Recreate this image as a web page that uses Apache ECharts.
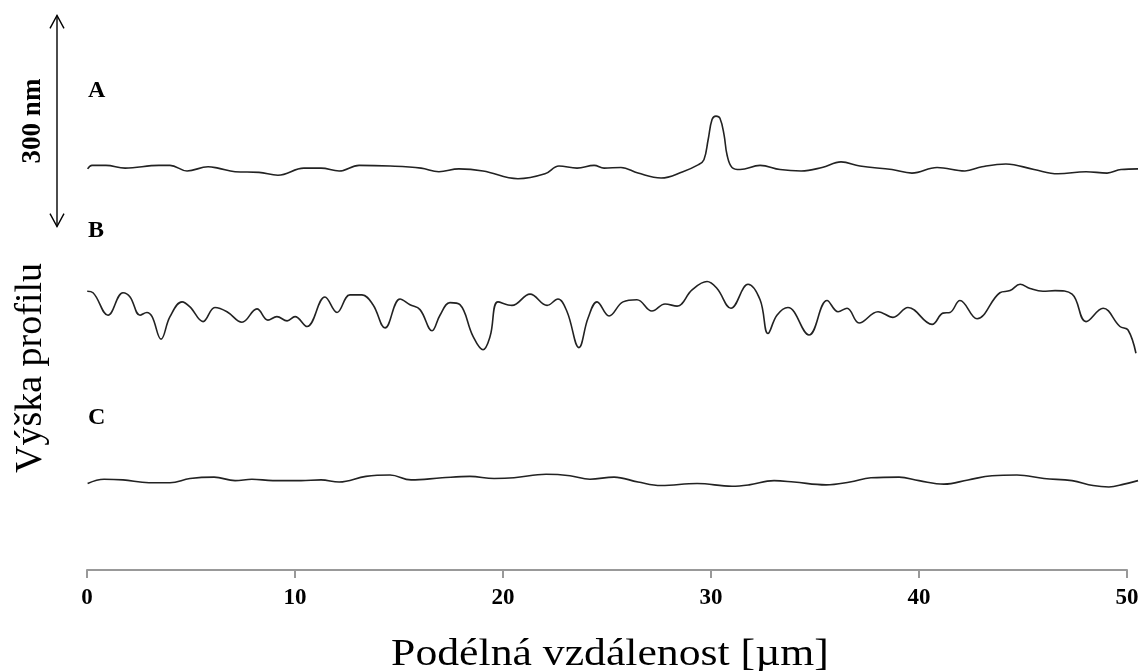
<!DOCTYPE html>
<html>
<head>
<meta charset="utf-8">
<title>Výška profilu</title>
</head>
<body style="margin:0">
<div id="main" style="width:1142px;height:671px;"></div>
<script src="https://cdn.jsdelivr.net/npm/echarts@6/dist/echarts.min.js"></script>
<script>
// profily [x v µm, výška v nm]
var profileA = [[0.03,570],[0.24,575],[0.91,575],[1.83,571],[3.46,575],[3.99,575],[4.81,567],[5.82,573],[6.30,571],[7.12,566],[8.27,565],[9.18,561],[10.43,571],[11.25,571],[12.12,567],[13.08,575],[14.57,574],[16.06,571],[16.92,566],[17.88,570],[19.04,567],[20.72,556],[22.02,563],[22.69,574],[23.56,571],[24.38,575],[24.86,571],[25.67,572],[26.49,564],[27.60,557],[28.65,566],[29.40,576],[29.66,583],[29.86,611],[30.05,640],[30.24,645],[30.43,642],[30.63,618],[30.77,590],[31.01,572],[31.40,569],[32.36,575],[33.32,569],[34.33,567],[35.34,572],[36.25,580],[37.16,574],[38.70,569],[39.66,564],[40.87,572],[42.21,567],[43.03,573],[44.18,577],[45.53,569],[46.68,563],[48.03,566],[49.04,564],[49.71,569],[50.53,570]];
var profileB = [[0.01,396],[0.29,394],[1.01,362],[1.73,394],[2.07,388],[2.55,362],[2.88,366],[3.13,360],[3.56,328],[3.99,360],[4.57,381],[4.95,374],[5.58,353],[6.15,373],[6.73,367],[7.45,352],[8.17,371],[8.70,355],[9.13,360],[9.62,354],[10.00,360],[10.58,346],[11.44,388],[12.02,366],[12.64,391],[13.22,391],[13.75,377],[14.33,344],[15.05,385],[15.53,377],[16.01,370],[16.59,340],[16.97,362],[17.45,380],[17.93,377],[18.56,332],[19.04,313],[19.38,332],[19.76,381],[20.43,376],[21.30,392],[22.12,376],[22.64,385],[23.08,367],[23.65,316],[24.09,358],[24.52,381],[25.10,361],[25.77,381],[26.44,384],[27.16,368],[27.79,378],[28.37,375],[29.09,398],[29.81,410],[30.29,400],[30.96,372],[31.78,406],[32.36,384],[32.74,336],[33.17,362],[33.70,373],[34.71,334],[35.58,383],[36.11,367],[36.54,372],[37.12,351],[38.03,367],[38.75,359],[39.47,373],[40.63,349],[41.15,365],[41.49,366],[41.97,383],[42.79,357],[43.89,394],[44.38,397],[44.86,406],[45.34,400],[45.96,396],[46.54,397],[47.36,392],[48.03,353],[48.85,372],[49.66,346],[50.05,341],[50.43,308]];
var profileC = [[0.03,123],[0.82,129],[1.73,128],[2.98,124],[3.99,124],[4.95,130],[6.11,132],[7.12,127],[7.93,129],[8.94,127],[10.29,127],[11.25,128],[12.12,125],[13.41,133],[14.57,135],[15.58,128],[17.07,131],[18.41,133],[19.57,130],[20.53,131],[22.07,136],[23.22,134],[24.18,129],[25.34,132],[26.49,125],[27.60,120],[29.33,123],[31.01,119],[31.83,121],[33.03,127],[33.99,125],[35.53,121],[36.68,125],[37.69,131],[39.04,132],[40.00,127],[41.20,122],[42.36,128],[43.51,134],[44.71,135],[46.01,130],[47.36,127],[48.37,120],[49.13,118],[49.86,122],[50.53,127]];
var profileNames = ['A', 'B', 'C'];
// měřítko 300 nm (od - do)
var scaleBar = [488, 788];
var xTicks = [0, 50, 10];      // min, max, krok osy
var xDataMax = 50.6;           // profily jdou kousek za 50 µm

var serif = '"Liberation Serif", "Times New Roman", serif';
var myChart = echarts.init(document.getElementById('main'));

// stejne meritko v obou gridech: 1040 px na 50 µm
var pxPerUm = 1040 / 50;

function profileSeries(name, data) {
	return {
		name: name,
		type: 'line',
		xAxisIndex: 1,
		yAxisIndex: 1,
		data: data,
		smooth: 0.4,
		showSymbol: false,
		lineStyle: {color: '#222', width: 1.6}
	};
}

myChart.setOption({
	animation: false,
	backgroundColor: '#fff',
	grid: [
		{left: 87, right: 15, top: 7, bottom: 101},
		{left: 87, right: 1142 - 87 - xDataMax * pxPerUm, top: 7, bottom: 101}
	],
	xAxis: [{
		gridIndex: 0,
		type: 'value',
		min: xTicks[0],
		max: xTicks[1],
		interval: xTicks[2],
		axisLine: {lineStyle: {color: '#999', width: 2}},
		axisTick: {length: 8, lineStyle: {color: '#999', width: 2}},
		axisLabel: {fontFamily: serif, fontWeight: 'bold', fontSize: 23, color: '#000', margin: 17},
		splitLine: {show: false}
	}, {
		gridIndex: 1, type: 'value', min: 0, max: xDataMax, show: false
	}],
	yAxis: [
		{gridIndex: 0, type: 'value', min: 0, max: 800, show: false},
		{gridIndex: 1, type: 'value', min: 0, max: 800, show: false}
	],
	series: [
		profileSeries(profileNames[0], profileA),
		profileSeries(profileNames[1], profileB),
		profileSeries(profileNames[2], profileC)
	]
});

// popisky a šipka měřítka
var yTop = myChart.convertToPixel({yAxisIndex: 1}, scaleBar[1]);
var yBot = myChart.convertToPixel({yAxisIndex: 1}, scaleBar[0]);
var ax = 57;
var black = {stroke: '#000', lineWidth: 1.4, fill: null};
myChart.setOption({
	graphic: [
		{type: 'line', shape: {x1: ax, y1: yTop, x2: ax, y2: yBot}, style: black},
		{type: 'polyline', shape: {points: [[ax - 7, yTop + 13], [ax, yTop], [ax + 7, yTop + 13]]}, style: black},
		{type: 'polyline', shape: {points: [[ax - 7, yBot - 13], [ax, yBot], [ax + 7, yBot - 13]]}, style: black},
		{type: 'text', x: 33, y: 121, rotation: Math.PI / 2,
			style: {text: '300 nm', font: 'bold 27px ' + serif, fill: '#000', align: 'center', verticalAlign: 'middle'}},
		{type: 'text', x: 31, y: 368, rotation: Math.PI / 2,
			style: {text: 'Výška profilu', font: '38px ' + serif, fill: '#000', align: 'center', verticalAlign: 'middle'}},
		{type: 'text', x: 610, y: 655, scaleX: 1.15,
			style: {text: 'Podélná vzdálenost [µm]', font: '38px ' + serif, fill: '#000', align: 'center', verticalAlign: 'middle'}},
		{type: 'text', x: 88, y: 91, style: {text: profileNames[0], font: 'bold 24px ' + serif, fill: '#000', verticalAlign: 'middle'}},
		{type: 'text', x: 88, y: 231, style: {text: profileNames[1], font: 'bold 24px ' + serif, fill: '#000', verticalAlign: 'middle'}},
		{type: 'text', x: 88, y: 418, style: {text: profileNames[2], font: 'bold 24px ' + serif, fill: '#000', verticalAlign: 'middle'}}
	]
});
</script>
</body>
</html>
